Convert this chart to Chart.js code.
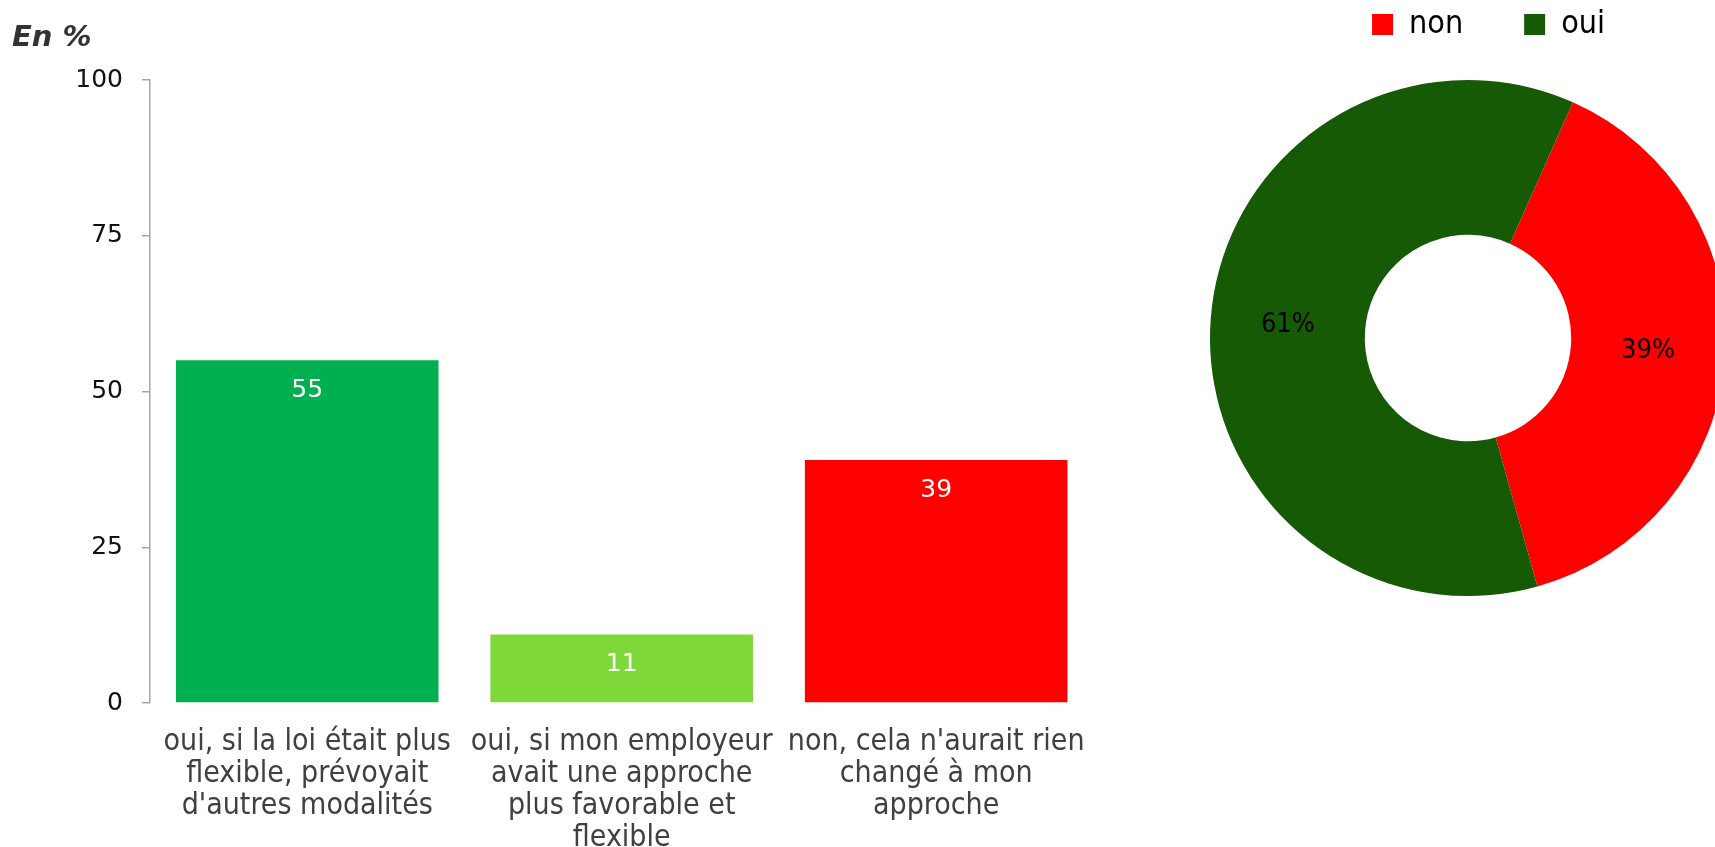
<!DOCTYPE html>
<html>
<head>
<meta charset="utf-8">
<script src="https://cdn.jsdelivr.net/npm/chart.js@4.4.0/dist/chart.umd.min.js"></script>
<style>
html, body { margin: 0; padding: 0; background: #fff; overflow: hidden; width: 1715px; height: 847px; }
#barCanvas { position: absolute; left: 0; top: 0; }
#pieCanvas { position: absolute; left: 1110px; top: 0; }
</style>
</head>
<body>
<canvas id="barCanvas" width="1110" height="847"></canvas>
<canvas id="pieCanvas" width="605" height="847"></canvas>
<script>
// bar chart data
var categories = [
  ["oui, si la loi était plus", "flexible, prévoyait", "d'autres modalités"],
  ["oui, si mon employeur", "avait une approche", "plus favorable et", "flexible"],
  ["non, cela n'aurait rien", "changé à mon", "approche"]
];
var barValues = [55, 11, 39];
var barColors = ['#00B050', '#7ED83A', '#FF0000'];
var yTicks = [0, 25, 50, 75, 100];

// doughnut data
var pieLabels = ['non', 'oui'];
var pieValues = [39, 61];
var pieColors = ['#FF0000', '#165A06'];

Chart.defaults.font.family = 'DejaVu Sans';

var barLabels = {
  id: 'barLabels',
  afterDatasetsDraw: function(chart) {
    var ctx = chart.ctx;
    var meta = chart.getDatasetMeta(0);
    ctx.save();
    ctx.fillStyle = '#fff';
    ctx.font = '25px "DejaVu Sans"';
    ctx.textAlign = 'center';
    ctx.textBaseline = 'middle';
    meta.data.forEach(function(bar, i) {
      ctx.fillText(barValues[i], bar.x, bar.y + 30);
    });
    ctx.restore();
  }
};

new Chart(document.getElementById('barCanvas'), {
  type: 'bar',
  data: {
    labels: categories,
    datasets: [{
      data: barValues,
      backgroundColor: barColors,
      borderWidth: 0,
      categoryPercentage: 1,
      barPercentage: 0.835
    }]
  },
  options: {
    responsive: false,
    animation: false,
    devicePixelRatio: 1,
    layout: { padding: { left: 12, right: 15, top: 0, bottom: 0 } },
    plugins: {
      legend: { display: false },
      tooltip: { enabled: false },
      title: {
        display: true,
        text: 'En %',
        align: 'start',
        color: '#333',
        font: { family: 'DejaVu Sans', size: 29, weight: 'bold', style: 'italic' },
        padding: { top: 21, bottom: 24.2 }
      }
    },
    scales: {
      x: {
        grid: { display: false, drawTicks: false },
        border: { display: false },
        ticks: {
          color: '#404040',
          padding: 23,
          maxRotation: 0,
          autoSkip: false,
          font: { family: 'DejaVu Sans Condensed', size: 30, lineHeight: '32px' }
        },
        afterFit: function(scale) { scale.height = 144; }
      },
      y: {
        min: 0,
        max: 100,
        grid: { drawOnChartArea: false, drawTicks: true, tickLength: 8, color: '#A6A6A6', lineWidth: 1.5 },
        border: { display: true, color: '#A6A6A6', width: 1.5 },
        ticks: { color: '#111', padding: 19, font: { size: 25 } },
        afterBuildTicks: function(scale) {
          scale.ticks = yTicks.map(function(v) { return { value: v }; });
        },
        afterFit: function(scale) { scale.width = 138; }
      }
    }
  },
  plugins: [barLabels]
});

var pieText = {
  id: 'pieText',
  afterDatasetsDraw: function(chart) {
    var ctx = chart.ctx;
    var meta = chart.getDatasetMeta(0);
    ctx.save();
    ctx.fillStyle = '#000';
    ctx.font = '27px "DejaVu Sans Condensed"';
    ctx.textAlign = 'center';
    ctx.textBaseline = 'middle';
    meta.data.forEach(function(arc, i) {
      var p = arc.tooltipPosition();
      ctx.fillText(pieValues[i] + '%', p.x, p.y);
    });
    ctx.restore();
  }
};

new Chart(document.getElementById('pieCanvas'), {
  type: 'doughnut',
  data: {
    labels: pieLabels,
    datasets: [{
      data: pieValues,
      backgroundColor: pieColors,
      borderWidth: 0,
      clip: false
    }]
  },
  options: {
    responsive: false,
    animation: false,
    devicePixelRatio: 1,
    radius: 258,
    cutout: '40%',
    rotation: 24,
    layout: { padding: { left: 160, right: 49, top: -52.5, bottom: 221.5 } },
    plugins: {
      tooltip: { enabled: false },
      legend: {
        position: 'top',
        align: 'end',
        labels: {
          boxWidth: 21,
          boxHeight: 21,
          padding: 61,
          color: '#000',
          font: { family: 'DejaVu Sans Condensed', size: 32 }
        }
      }
    }
  },
  plugins: [pieText]
});
</script>
</body>
</html>
